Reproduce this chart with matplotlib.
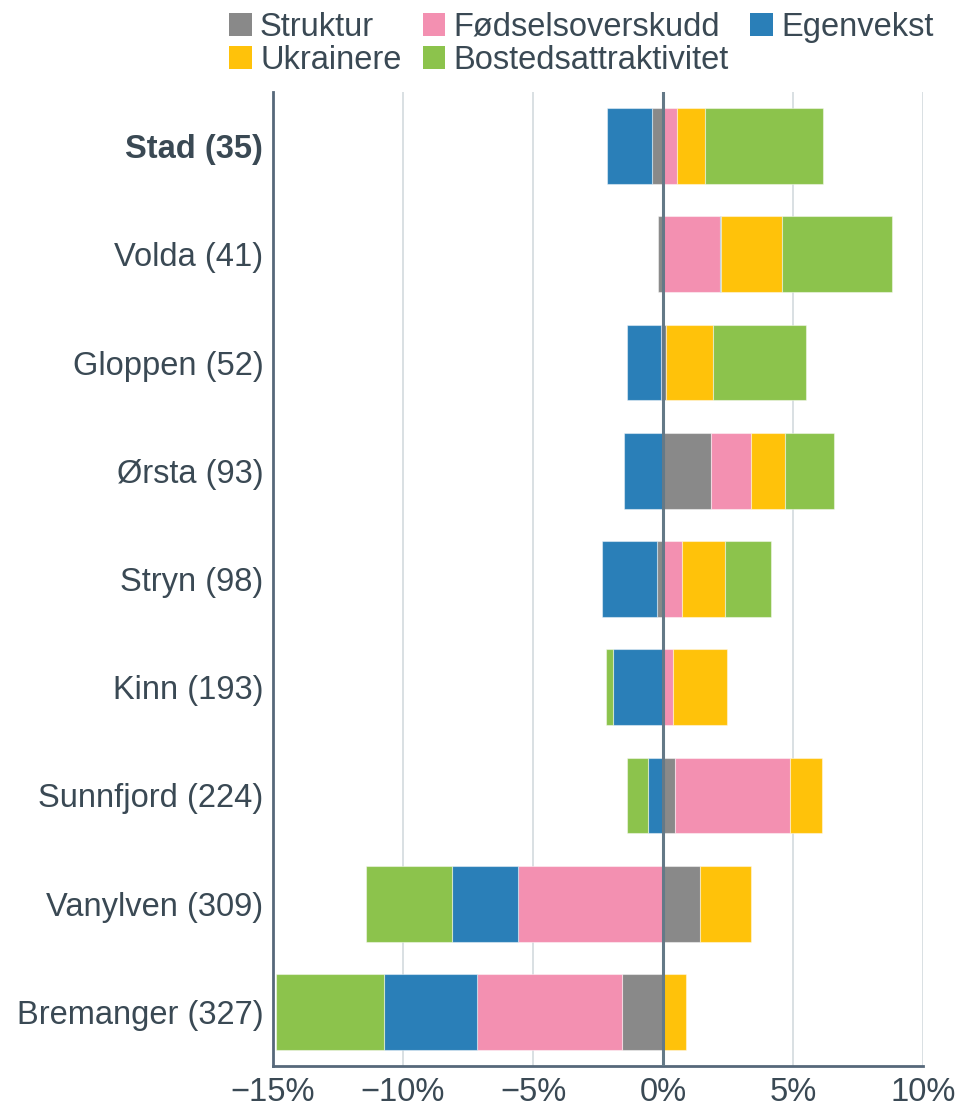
import matplotlib
matplotlib.use("Agg")
import matplotlib.pyplot as plt
import numpy as np
from matplotlib.patches import Patch
from matplotlib.ticker import FuncFormatter

plt.rcParams["font.family"] = ["Liberation Sans", "DejaVu Sans"]

TEXT_C = "#3a4954"

kommuner = ["Stad (35)", "Volda (41)", "Gloppen (52)", "Ørsta (93)", "Stryn (98)",
            "Kinn (193)", "Sunnfjord (224)", "Vanylven (309)", "Bremanger (327)"]
categories = ["Struktur", "Fødselsoverskudd", "Egenvekst", "Ukrainere",
              "Bostedsattraktivitet"]

# values in percent
struktur = [-0.42, -0.18, 0.13, 1.83, -0.24, 0.0, 0.46, 1.42, -1.58]
fodsel = [0.55, 2.19, -0.06, 1.55, 0.72, 0.37, 4.44, -5.59, -5.59]
egenvekst = [-1.75, 0.05, -1.33, -1.49, -2.09, -1.92, -0.59, -2.51, -3.55]
ukrainere = [1.08, 2.33, 1.78, 1.32, 1.68, 2.10, 1.21, 1.96, 0.90]
bosted = [4.51, 4.22, 3.58, 1.87, 1.74, -0.27, -0.81, -3.31, -4.18]

colors = ["#898989", "#f390b1", "#2a7fb8", "#ffc20a", "#8cc34c"]


def main():
    series = [struktur, fodsel, egenvekst, ukrainere, bosted]
    fig = plt.figure(figsize=(9.59, 11.06), dpi=100)
    ax = fig.add_axes([273 / 959, 40 / 1106, 650 / 959, 974 / 1106])

    y = np.arange(len(kommuner))
    pos_base = np.zeros(len(kommuner))
    neg_base = np.zeros(len(kommuner))
    for vals, col in zip(series, colors):
        vals = np.array(vals)
        left = np.where(vals >= 0, pos_base, neg_base)
        ax.barh(y, vals, left=left, height=0.7, color=col,
                edgecolor=(1, 1, 1, 0.45), linewidth=0.8, zorder=3)
        pos_base = pos_base + np.where(vals >= 0, vals, 0)
        neg_base = neg_base + np.where(vals < 0, vals, 0)

    ax.set_xlim(-15, 10)
    ax.set_ylim(len(kommuner) - 0.5, -0.5)
    ax.set_xticks([-15, -10, -5, 0, 5, 10])
    ax.xaxis.set_major_formatter(FuncFormatter(
        lambda v, p: ("\u2212" if v < 0 else "") + "%d%%" % abs(v)))
    for xv in [-10, -5, 5, 10]:
        ax.axvline(xv, color="#d3dade", lw=1.2, zorder=1)
    ax.axvline(0, color="#647987", lw=2.2, zorder=4)

    ax.set_yticks(y)
    ax.set_yticklabels(kommuner)
    ax.tick_params(axis="both", length=0, labelsize=23.5, colors=TEXT_C)
    ax.tick_params(axis="y", pad=7)
    ax.tick_params(axis="x", pad=8)
    ax.get_yticklabels()[0].set_fontweight("bold")

    for s in ["top", "right"]:
        ax.spines[s].set_visible(False)
    for s in ["left", "bottom"]:
        ax.spines[s].set_color("#56687a")
        ax.spines[s].set_linewidth(2)

    handles = [Patch(facecolor=c, label=l) for c, l in zip(colors, categories)]
    order = [0, 3, 1, 4, 2]
    fig.legend([handles[i] for i in order], [categories[i] for i in order],
               loc="upper left", bbox_to_anchor=(229 / 959, 1 - 12 / 1106),
               ncol=3, frameon=False, fontsize=23.5, labelcolor=TEXT_C,
               handlelength=0.7, handleheight=0.7, handletextpad=0.25,
               columnspacing=0.65, labelspacing=0.05, borderpad=0,
               borderaxespad=0)

    fig.savefig("out.png", dpi=100)


if __name__ == '__main__':
    main()
